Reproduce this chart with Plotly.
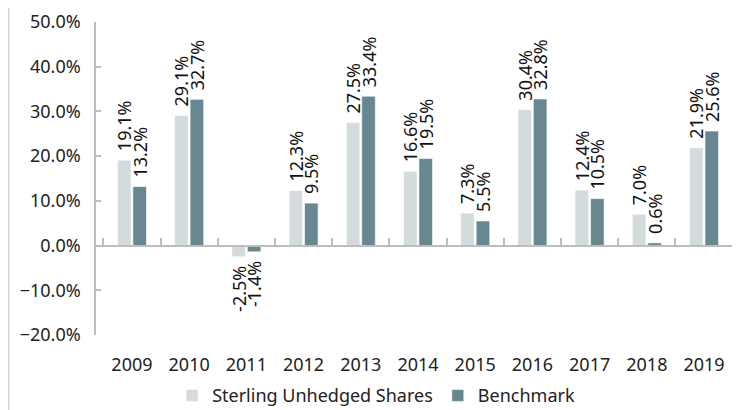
import plotly.graph_objects as go

years = ["2009", "2010", "2011", "2012", "2013", "2014", "2015", "2016", "2017", "2018", "2019"]
sterling = [19.1, 29.1, -2.5, 12.3, 27.5, 16.6, 7.3, 30.4, 12.4, 7.0, 21.9]
benchmark = [13.2, 32.7, -1.4, 9.5, 33.4, 19.5, 5.5, 32.8, 10.5, 0.6, 25.6]
y_ticks = [-20, -10, 0, 10, 20, 30, 40, 50]

FONT = "Noto Sans"
SP = "\u2004"

# page has an 8px body margin: figure coordinates = window - 8
L, T, R, B = 88, 14, 8, 83
PW, PH = 740 - L - R, 410 - T - B


def labels(vals):
    return [(SP + f"{v:.1f}%") if v >= 0 else (f"{v:.1f}%" + SP) for v in vals]


fig = go.Figure()
for name, vals, col in [("Sterling Unhedged Shares", sterling, "#d3dbdc"),
                        ("Benchmark", benchmark, "#688891")]:
    fig.add_trace(go.Bar(
        x=years, y=[v / 100 for v in vals], name=name,
        marker=dict(color=col, line=dict(color="rgba(255,255,255,0.6)", width=1)),
        text=labels(vals), texttemplate="%{text}", textposition="outside", textangle=-90,
        textfont=dict(family=FONT, size=18, color="#111"),
        constraintext="none", cliponaxis=False, hoverinfo="x+y",
    ))

fig.add_trace(go.Scatter(x=years, y=[None] * len(years), xaxis="x2", showlegend=False, hoverinfo="skip"))

fig.update_layout(
    width=740, height=410,
    margin=dict(l=L, r=R, t=T, b=B, autoexpand=False),
    paper_bgcolor="white", plot_bgcolor="white",
    font=dict(family=FONT, size=18, color="#222"),
    barmode="group", bargap=0.46, bargroupgap=0.12,
    showlegend=True,
    legend=dict(orientation="h", x=0.435, xanchor="center", y=-0.194, yanchor="middle",
                font=dict(size=18, family=FONT), itemwidth=30, traceorder="normal"),
    xaxis=dict(type="category", showline=False, ticks="", showgrid=False, automargin=False,
               tickfont=dict(size=18, family=FONT), ticklabelstandoff=17),
    xaxis2=dict(type="category", overlaying="x", anchor="free", position=2 / 7,
                matches="x", showline=True, linecolor="#bdbdbd", linewidth=1.5,
                ticks="inside", tickson="boundaries", ticklen=7, tickcolor="#bdbdbd",
                tickwidth=1.5, showticklabels=False, showgrid=False, automargin=False),
    yaxis=dict(range=[-0.2, 0.5], tickvals=[v / 100 for v in y_ticks], tickformat=".1%",
               showline=True, linecolor="#bdbdbd", linewidth=1.5, automargin=False,
               ticks="inside", ticklen=5, tickcolor="#bdbdbd", tickwidth=1.5,
               showgrid=False, zeroline=False, ticklabelstandoff=10,
               tickfont=dict(size=18, family=FONT)),
    shapes=[dict(type="line", xref="paper", yref="paper",
                 x0=(0.5 - L) / PW, x1=(0.5 - L) / PW, y0=-B / PH, y1=(PH + T) / PH,
                 line=dict(color="#d0d0d0", width=1.5))],
)

fig.write_html("out.html")
